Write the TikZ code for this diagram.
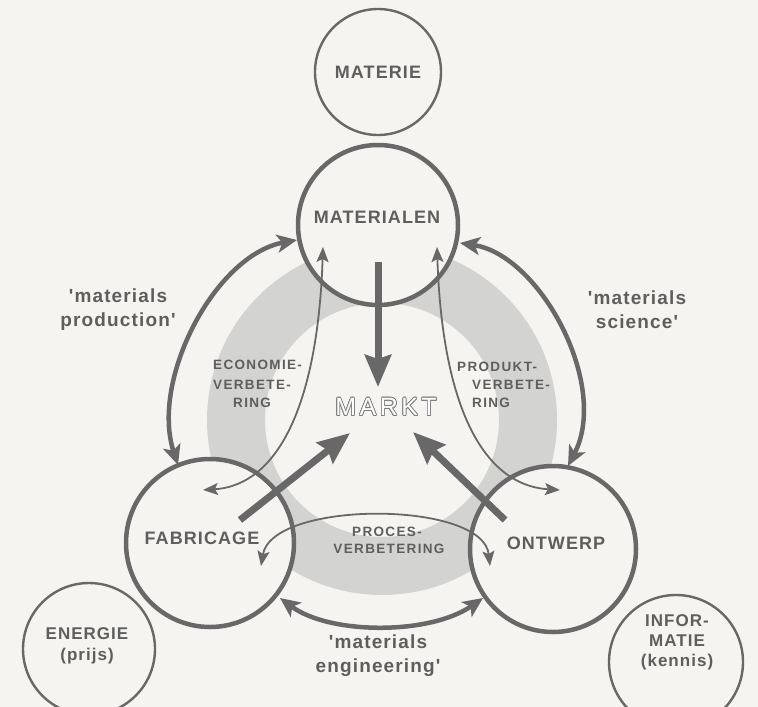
\documentclass[tikz,border=0pt]{standalone}
\usepackage{fontspec}
\setmainfont{Liberation Sans}
\newfontfamily\lab{Liberation Sans}[LetterSpace=6]
\newfontfamily\smalllab{Liberation Sans}[LetterSpace=10]
\newfontfamily\marktfont{Liberation Sans}[LetterSpace=14]
\usetikzlibrary{arrows.meta,calc}
\definecolor{paper}{HTML}{F5F4F0}
\definecolor{ink}{HTML}{686868}
\definecolor{txt}{HTML}{5E5E5E}
\definecolor{band}{HTML}{D3D3D1}
\begin{document}
\begin{tikzpicture}[x=1pt,y=-1pt,
  mainring/.style={circle,draw=ink,line width=4.5pt,fill=paper,inner sep=0pt,minimum size=#1},
  sidering/.style={circle,draw=ink,line width=2.4pt,fill=paper,inner sep=0pt,minimum size=#1},
  caps/.style={text=txt,font=\lab\bfseries\fontsize{18}{22}\selectfont,inner sep=0pt},
  quote/.style={text=txt,font=\lab\bfseries\fontsize{19}{24}\selectfont,align=center,inner sep=0pt},
  sidetext/.style={text=txt,font=\lab\bfseries\fontsize{17}{21}\selectfont,align=center,inner sep=0pt},
  improve/.style={text=txt,font=\smalllab\bfseries\fontsize{13.5}{18}\selectfont,inner sep=0pt},
  thickarc/.style={draw=ink,line width=4.5pt,>={Stealth[length=20pt,width=18pt,inset=5pt]},<->},
  thinarc/.style={draw=ink,line width=1.8pt,>={Stealth[length=15pt,width=12pt,inset=3pt]},<->},
  bigarrow/.style={draw=ink,line width=7pt,>={Stealth[length=32pt,width=26pt,inset=4pt]},->}]
\useasboundingbox (0,0) rectangle (758,707);
\fill[paper] (0,0) rectangle (758,707);
\clip (0,0) rectangle (758,707);

% grey market ring
\fill[band,even odd rule] (382,420) circle[radius=175pt] (382,420) circle[radius=117pt];

% circles
\node[sidering=126pt] (materie) at (378,72) {};
\node[sidering=132pt] (energie) at (89,649) {};
\node[sidering=134pt] (informatie) at (676,662) {};
\node[mainring=160pt] (materialen) at (378,225) {};
\node[mainring=168pt] (fabricage) at (210,543) {};
\node[mainring=166pt] (ontwerp) at (553,549) {};

% end points of the connectors
\coordinate (prodTop) at (297,240);
\coordinate (prodBot) at (178,465);
\coordinate (sciTop) at (460,243);
\coordinate (sciBot) at (568,466);
\coordinate (engL) at (280,598);
\coordinate (engR) at (483,598);
\coordinate (ecoTop) at (323,247);
\coordinate (ecoBot) at (203,490);
\coordinate (pdkTop) at (437,247);
\coordinate (pdkBot) at (560,490);
\coordinate (procL) at (261,566);
\coordinate (procR) at (490,566);
\coordinate (matOut) at (378,262);
\coordinate (fabOut) at (240,520);
\coordinate (ontOut) at (505,520);
\coordinate (toMarktA) at (378,387);
\coordinate (toMarktB) at (350,433);
\coordinate (toMarktC) at (413,432);

% two-way links between the three domains
\draw[thickarc] (prodTop) .. controls (215,255) and (150,380) .. (prodBot);
\draw[thickarc] (sciTop) .. controls (540,255) and (610,385) .. (sciBot);
\draw[thickarc] (engL) .. controls (330,635) and (430,635) .. (engR);

% improvement loops
\draw[thinarc] (ecoTop) .. controls (318,400) and (280,485) .. (ecoBot);
\draw[thinarc] (pdkTop) .. controls (442,400) and (480,485) .. (pdkBot);
\draw[thinarc] (procL) .. controls (272,500) and (483,500) .. (procR);

% flows into the market
\draw[bigarrow] (matOut) -- (toMarktA);
\draw[bigarrow] (fabOut) -- (toMarktB);
\draw[bigarrow] (ontOut) -- (toMarktC);

% labels
\node[caps] (tMaterie) at (378,72) {MATERIE};
\node[caps] (tMaterialen) at (377,217) {MATERIALEN};
\node[caps] (tFabricage) at (202,538) {FABRICAGE};
\node[caps] (tOntwerp) at (556,543) {ONTWERP};
\node[sidetext] (tEnergie) at (87,646) {ENERGIE\\(prijs)};
\node[sidetext,font=\lab\bfseries\fontsize{17}{20}\selectfont] (tInfo) at (677,642) {INFOR-\\MATIE\\(kennis)};

\node[quote] (tProduction) at (118,310) {'materials\\production'};
\node[quote] (tScience) at (637,310) {'materials\\science'};
\node[quote] (tEngineering) at (378,656) {'materials\\engineering'};

\node[improve,anchor=west] (eco1) at (213,365) {ECONOMIE-};
\node[improve,anchor=west] (eco2) at (213,385) {VERBETE-};
\node[improve,anchor=west] (eco3) at (233,403) {RING};
\node[improve,anchor=west] (pdk1) at (457,367) {PRODUKT-};
\node[improve,anchor=west] (pdk2) at (472,385) {VERBETE-};
\node[improve,anchor=west] (pdk3) at (472,403) {RING};
\node[improve] (proc1) at (387,532) {PROCES-};
\node[improve] (proc2) at (389,549) {VERBETERING};

% outlined market title
\foreach \a in {0,22.5,...,337.5}
  \node[text=ink!85,font=\marktfont\fontsize{25}{25}\selectfont,inner sep=0pt]
    (marktEdge\a) at ($(386,407)+(\a:0.75pt)$) {MARKT};
\node[text=white,font=\marktfont\fontsize{25}{25}\selectfont,inner sep=0pt] (markt) at (386,407) {MARKT};
\end{tikzpicture}
\end{document}
